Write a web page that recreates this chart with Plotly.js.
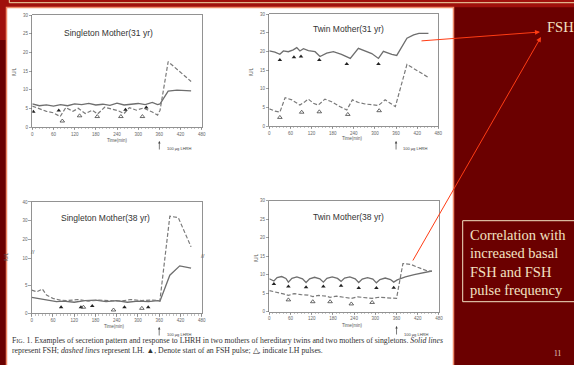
<!DOCTYPE html>
<html><head><meta charset="utf-8">
<script src="https://cdn.plot.ly/plotly-3.0.1.min.js"></script>
<style>html,body{margin:0;padding:0;background:#6b0000;}#chart{width:574px;height:365px;}</style>
</head><body><div id="chart"></div>
<script>
// ---- data (time in min, hormone level) ----
const xTicks = [0, 60, 120, 180, 240, 300, 360, 420, 480];
const panelTitles = ["Singleton Mother(31 yr)", "Twin Mother(31 yr)", "Singleton Mother(38 yr)", "Twin Mother(38 yr)"];

// Singleton mother 31 yr
const s31_fsh_t = [0, 20, 40, 60, 80, 100, 120, 140, 160, 180, 200, 220, 240, 260, 280, 300, 320, 340, 355, 362, 385, 410, 450];
const s31_fsh_v = [6.2, 5.7, 5.9, 5.6, 6.0, 5.7, 6.2, 6.0, 6.3, 5.9, 6.1, 5.8, 6.4, 5.9, 6.1, 6.3, 6.0, 6.6, 6.0, 6.2, 9.6, 9.9, 9.7];
const s31_lh_t = [0, 20, 40, 60, 79, 95, 115, 130, 150, 170, 185, 205, 225, 245, 260, 275, 295, 315, 340, 355, 362, 385, 450];
const s31_lh_v = [5.6, 4.8, 4.2, 3.8, 2.8, 5.2, 4.2, 5.0, 3.6, 4.5, 3.5, 5.3, 4.7, 4.3, 3.6, 5.2, 4.5, 5.1, 4.0, 3.2, 4.5, 17.5, 12.2];
const s31_fp_t = [3, 75, 264, 323];
const s31_fp_v = [4.1, 4.4, 4.6, 5.2];
const s31_lp_t = [85, 134, 184, 251, 312];
const s31_lp_v = [1.6, 3.0, 2.8, 2.8, 2.8];

// Twin mother 31 yr
const t31_fsh_t = [0, 16, 30, 40, 54, 68, 78, 87, 97, 111, 130, 144, 163, 182, 205, 230, 253, 272, 291, 310, 324, 348, 362, 391, 410, 425, 452];
const t31_fsh_v = [20.1, 19.8, 19.2, 20.1, 19.9, 20.4, 21.0, 20.1, 20.7, 20.2, 19.9, 18.6, 19.5, 19.9, 19.2, 18.1, 20.8, 20.0, 19.4, 18.1, 20.0, 19.2, 18.9, 23.5, 24.4, 24.8, 24.8];
const t31_lh_t = [0, 16, 30, 45, 64, 87, 101, 111, 125, 139, 158, 177, 200, 220, 236, 253, 272, 290, 310, 329, 358, 391, 410, 452];
const t31_lh_v = [4.6, 4.0, 3.7, 7.6, 7.0, 5.6, 6.5, 7.2, 6.1, 5.6, 7.2, 6.5, 5.2, 4.3, 7.0, 6.3, 5.9, 5.7, 5.5, 7.0, 5.2, 16.5, 15.4, 13.0];
const t31_fp_t = [30, 70, 90, 142, 220, 310];
const t31_fp_v = [17.7, 18.4, 18.6, 17.7, 16.6, 16.6];
const t31_lp_t = [30, 92, 142, 223, 312];
const t31_lp_v = [2.3, 3.7, 3.8, 3.1, 4.1];

// Singleton mother 38 yr (broken axis)
const s38_fsh_t = [0, 15, 30, 50, 70, 90, 120, 150, 180, 210, 240, 270, 300, 330, 355, 362, 390, 418, 450];
const s38_fsh_v = [2.9, 2.7, 2.6, 2.3, 2.1, 2.2, 2.0, 2.3, 2.4, 2.1, 2.3, 2.0, 2.2, 2.1, 2.3, 2.2, 6.9, 8.6, 8.2];
const s38_lh_t = [0, 15, 30, 42, 60, 80, 100, 130, 160, 190, 220, 250, 280, 310, 340, 362, 390, 414, 450];
const s38_lh_v = [4.2, 3.9, 4.4, 3.3, 2.7, 2.4, 2.3, 2.5, 2.2, 2.4, 2.3, 2.2, 2.5, 2.3, 2.4, 2.3, 32.4, 31.6, 16.0];
const s38_fp_t = [83, 139, 171, 262, 329];
const s38_fp_v = [1.1, 1.1, 1.3, 1.1, 1.1];
const s38_lp_t = [146, 231, 311];
const s38_lp_v = [1.1, 0.6, 0.9];
const s38_yTicks = [0, 5, 10, 20, 30, 40];

// Twin mother 38 yr
const t38_fsh_t = [0, 13, 22, 35, 47, 54, 64, 78, 94, 104, 114, 128, 143, 153, 163, 178, 193, 203, 213, 228, 243, 253, 263, 278, 293, 303, 313, 328, 343, 352, 362, 385, 410, 435, 460];
const t38_fsh_v = [8.9, 8.3, 9.2, 9.5, 9.0, 8.0, 9.0, 9.4, 8.9, 7.9, 8.9, 9.3, 8.9, 8.0, 9.0, 9.4, 9.0, 8.2, 9.1, 9.4, 8.9, 7.9, 8.8, 9.2, 8.8, 7.8, 8.7, 9.1, 8.7, 8.0, 8.6, 9.4, 10.0, 10.5, 11.0];
const t38_lh_t = [0, 10, 25, 40, 54, 70, 90, 110, 123, 140, 160, 172, 190, 210, 232, 250, 270, 291, 310, 330, 350, 360, 378, 400, 420, 448, 460];
const t38_lh_v = [5.7, 5.5, 5.1, 4.8, 4.4, 4.9, 4.6, 4.5, 4.1, 4.4, 4.2, 3.9, 4.2, 4.0, 3.6, 4.0, 3.9, 3.6, 3.9, 3.7, 3.5, 3.6, 13.0, 12.8, 12.0, 11.0, 10.9];
const t38_fp_t = [13, 54, 104, 153, 203, 253, 303, 352];
const t38_fp_v = [7.5, 6.8, 6.6, 6.8, 7.0, 6.4, 6.4, 6.5];
const t38_lp_t = [54, 123, 172, 232, 291];
const t38_lp_v = [3.2, 2.7, 2.7, 2.1, 2.5];

// ---- helpers ----
const W = 574, H = 365;
const PX = x => x / W;
const PY = y => 1 - y / H;
// broken axis scale for the 38-yr singleton panel
const brk = v => (v <= 10 ? v : 10 + (v - 10) * 0.339);

const fshLine = {color: '#6e6e6e', width: 1.3};
const lhLine = {color: '#7a7a7a', width: 1.2, dash: '4px,2px'};

function series(xa, ya, ft, fv, lt, lv, fpt, fpv, lpt, lpv, f) {
  f = f || (v => v);
  return [
    {x: ft, y: fv.map(f), xaxis: xa, yaxis: ya, mode: 'lines', line: fshLine, hoverinfo: 'skip'},
    {x: lt, y: lv.map(f), xaxis: xa, yaxis: ya, mode: 'lines', line: lhLine, hoverinfo: 'skip'},
    {x: fpt, y: fpv.map(f), xaxis: xa, yaxis: ya, mode: 'markers', marker: {symbol: 'triangle-up', size: 4, color: '#222'}, hoverinfo: 'skip'},
    {x: lpt, y: lpv.map(f), xaxis: xa, yaxis: ya, mode: 'markers', marker: {symbol: 'triangle-up-open', size: 4, color: '#444', line: {width: 0.8}}, hoverinfo: 'skip'}
  ];
}

const data = [].concat(
  series('x', 'y', s31_fsh_t, s31_fsh_v, s31_lh_t, s31_lh_v, s31_fp_t, s31_fp_v, s31_lp_t, s31_lp_v),
  series('x2', 'y2', t31_fsh_t, t31_fsh_v, t31_lh_t, t31_lh_v, t31_fp_t, t31_fp_v, t31_lp_t, t31_lp_v),
  series('x3', 'y3', s38_fsh_t, s38_fsh_v, s38_lh_t, s38_lh_v, s38_fp_t, s38_fp_v, s38_lp_t, s38_lp_v, brk),
  series('x4', 'y4', t38_fsh_t, t38_fsh_v, t38_lh_t, t38_lh_v, t38_fp_t, t38_fp_v, t38_lp_t, t38_lp_v)
);

const tickFont = {family: 'Liberation Sans, Arial', size: 4.5, color: '#666'};
function xax(d0, d1, anchor, r1) {
  return {domain: [PX(d0), PX(d1)], anchor: anchor, range: [0, r1], tickvals: xTicks, ticktext: xTicks.map(String),
    showline: true, mirror: true, linecolor: '#777', linewidth: 0.8, ticks: 'outside', ticklen: 2.5, tickwidth: 0.6, tickcolor: '#666',
    minor: {dtick: 10, ticks: 'outside', ticklen: 1.5, tickcolor: '#888', tickwidth: 0.5, showgrid: false},
    tickfont: tickFont, showgrid: false, zeroline: false};
}
function yax(t, b, anchor, range, tv, tt) {
  return {domain: [PY(b), PY(t)], anchor: anchor, range: range, tickvals: tv, ticktext: tt,
    showline: true, mirror: true, linecolor: '#777', linewidth: 0.8, ticks: 'outside', ticklen: 2.5, tickwidth: 0.6, tickcolor: '#666',
    tickfont: tickFont, showgrid: false, zeroline: false};
}
const lin30 = [0, 5, 10, 15, 20, 25, 30];

const layout = {
  width: W, height: H, margin: {l: 0, r: 0, t: 0, b: 0},
  paper_bgcolor: '#6b0000', plot_bgcolor: 'rgba(0,0,0,0)', showlegend: false,
  xaxis: xax(32.3, 201.7, 'y', 480),
  yaxis: yax(15, 127, 'x', [0, 30], lin30, lin30.map(String)),
  xaxis2: xax(269.3, 438.3, 'y2', 480),
  yaxis2: yax(14, 126, 'x2', [0, 30], lin30, lin30.map(String)),
  xaxis3: xax(31.7, 201.7, 'y3', 480),
  yaxis3: yax(201.7, 313.3, 'x3', [0, 20.22], s38_yTicks.map(brk), s38_yTicks.map(String)),
  xaxis4: xax(269.3, 439.3, 'y4', 481),
  yaxis4: yax(200.7, 311.7, 'x4', [0, 30], lin30, lin30.map(String)),
  shapes: [
    {type: 'rect', xref: 'paper', yref: 'paper', x0: 0, x1: 1, y0: PY(7.3), y1: 1, fillcolor: '#a0100c', line: {width: 0}, layer: 'below'},
    {type: 'rect', xref: 'paper', yref: 'paper', x0: 0, x1: PX(7), y0: PY(40), y1: 1, fillcolor: '#a0100c', line: {width: 0}, layer: 'below'},
    {type: 'line', xref: 'paper', yref: 'paper', x0: PX(9.3), x1: 1, y0: PY(2.7), y1: PY(2.7), line: {color: '#f0d9a8', width: 1}, layer: 'below'},
    {type: 'line', xref: 'paper', yref: 'paper', x0: PX(9.3), x1: PX(9.3), y0: PY(2.7), y1: 1, line: {color: '#f0d9a8', width: 1}, layer: 'below'},
    {type: 'rect', xref: 'paper', yref: 'paper', x0: PX(6.5), x1: PX(453.5), y0: PY(366), y1: PY(7.6), fillcolor: '#ffffff', line: {color: '#f08a6a', width: 1.5}, layer: 'below'},
    {type: 'rect', xref: 'paper', yref: 'paper', x0: PX(462.7), x1: PX(580), y0: PY(301.7), y1: PY(220.7), fillcolor: 'rgba(0,0,0,0)', line: {color: '#f3e3c3', width: 1}, layer: 'below'}
  ],
  annotations: []
};

const A = layout.annotations;
function txt(x, y, text, size, opts) {
  A.push(Object.assign({xref: 'paper', yref: 'paper', x: PX(x), y: PY(y), text: text, showarrow: false,
    font: {family: 'Liberation Sans, Arial', size: size, color: '#333'}, xanchor: 'center', yanchor: 'middle'}, opts || {}));
}
// panel titles
txt(108, 33, panelTitles[0], 8.5);
txt(348, 29, panelTitles[1], 8.5);
txt(105, 218, panelTitles[2], 8.5);
txt(348, 217, panelTitles[3], 8.5);
// x titles
const small = {family: 'Liberation Sans', size: 4.5, color: '#555'};
txt(117, 140, 'Time(min)', 4.5, {font: small});
txt(352, 138, 'Time(min)', 4.5, {font: small});
txt(114, 326, 'Time(min)', 4.5, {font: small});
txt(352, 325.5, 'Time(min)', 4.5, {font: small});
// y titles
[[15, 72], [252, 72], [6, 257], [256, 258]].forEach(p => txt(p[0], p[1], 'IU/L', 4.5, {textangle: -90, font: small}));
// axis break marks
txt(33, 252, '//', 6, {font: {family: 'Liberation Sans', size: 6, color: '#555'}});
txt(202.5, 256, '//', 6, {font: {family: 'Liberation Sans', size: 6, color: '#555'}});
// LHRH arrows
[['x', 141, 148], ['x2', 141, 148], ['x3', 327, 334], ['x4', 326, 334]].forEach(a => {
  A.push({xref: a[0], yref: 'paper', x: 360, y: PY(a[1]), ax: 0, ay: 10, showarrow: true, arrowhead: 2, arrowsize: 0.7, arrowwidth: 0.7, arrowcolor: '#444', text: ''});
  A.push({xref: a[0], yref: 'paper', x: 375, y: PY(a[2]), text: '100 μg LHRH', showarrow: false, xanchor: 'left', yanchor: 'middle',
    font: {family: 'Liberation Sans', size: 4, color: '#444'}});
});
// caption
txt(10, 345.5, 'F<span style="font-size:6px">IG</span>. 1. Examples of secretion pattern and response to LHRH in two mothers of hereditary twins and two mothers of singletons. <i>Solid lines</i><br>represent FSH; <i>dashed lines</i> represent LH. ▲, Denote start of an FSH pulse; △, indicate LH pulses.', 7.8,
  {xanchor: 'left', align: 'left', font: {family: 'Liberation Serif', size: 7.8, color: '#333'}});
// right-hand slide text
const cream = '#f3e3c3';
txt(545, 27, 'FSH', 14.5, {xanchor: 'left', font: {family: 'Liberation Serif', size: 14.5, color: cream}});
['Correlation with', 'increased basal', 'FSH and FSH', 'pulse frequency'].forEach((s, i) =>
  txt(468, 235 + i * 18.3, s, 14.5, {xanchor: 'left', font: {family: 'Liberation Serif', size: 14.5, color: cream}}));
txt(557, 353, '11', 7.5, {font: {family: 'Liberation Serif', size: 7.5, color: '#e6d6c6'}});
// red pointer arrows
A.push({xref: 'paper', yref: 'paper', x: PX(540), y: PY(32), ax: -120, ay: 9, showarrow: true, arrowhead: 2, arrowsize: 1, arrowwidth: 1, arrowcolor: '#ff3c14', text: ''});
A.push({xref: 'paper', yref: 'paper', x: PX(541), y: PY(37), ax: -129, ay: 225, showarrow: true, arrowhead: 2, arrowsize: 1, arrowwidth: 1, arrowcolor: '#ff3c14', text: ''});

Plotly.newPlot('chart', data, layout, {displayModeBar: false, staticPlot: true});
</script></body></html>
